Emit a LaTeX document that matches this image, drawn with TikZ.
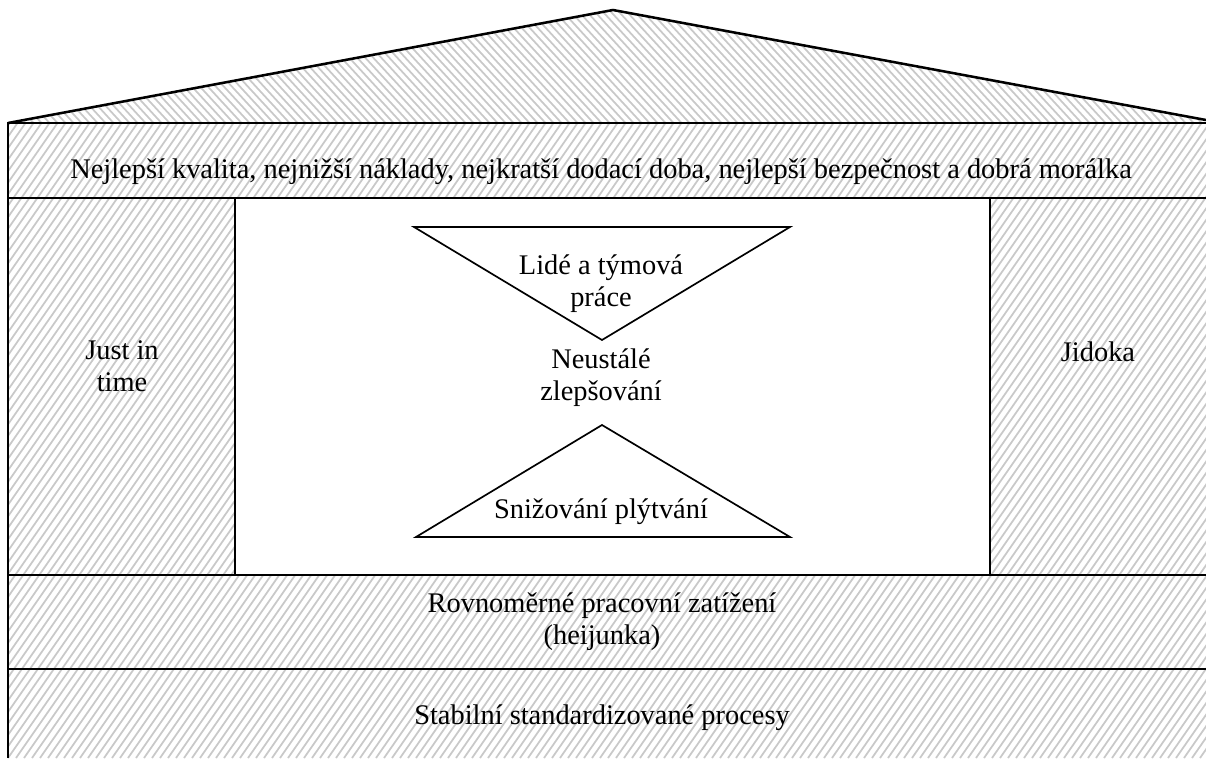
\documentclass[tikz,border=0pt]{standalone}
\usepackage{fontspec}
\setmainfont{Liberation Serif}
\usetikzlibrary{positioning, calc}

\begin{document}
\begin{tikzpicture}[x=0.025cm, y=-0.025cm,
    txt/.style={font=\fontsize{20.2}{22.7}\selectfont, align=center, inner sep=0pt},
    hatchline/.style={black!21, line width=1.25pt},
    wall/.style={black, line width=1.3pt},
    tri/.style={black, line width=1.2pt, fill=white}]

\useasboundingbox (0,0) rectangle (1206,758);

% Roof hatching
\begin{scope}
\clip (8,123) -- (613,10) -- (1206,120) -- (1206,123) -- cycle;
\foreach \x in {-200,-192,...,1400}
    \draw[hatchline] (\x,0) -- ++(120,130);
\end{scope}

% Body hatching
\begin{scope}
\clip (8,123) rectangle (1206,758);
\foreach \x in {-600,-592,...,1210}
    \draw[hatchline] (\x,758) -- ++(445,-640);
\end{scope}
\fill[white] (235,198) rectangle (990,575);

% Outlines
\draw[wall, line width=1.8pt] (8,123) -- (613,10) -- (1206,120);
\draw[wall] (8,758) -- (8,123) -- (1206,123);
\draw[wall] (8,198) -- (1206,198);
\draw[wall] (235,198) -- (235,575);
\draw[wall] (990,198) -- (990,575);
\draw[wall] (8,575) -- (1206,575);
\draw[wall] (8,669) -- (1206,669);

% Triangles
\draw[tri] (414,227) -- (790,227) -- (602,340) -- cycle;
\draw[tri] (602,425) -- (790,537) -- (416,537) -- cycle;

% Texts
\node[txt] (goals) at (601,172) {Nejlepší kvalita, nejnižší náklady, nejkratší dodací doba, nejlepší bezpečnost a dobrá morálka};
\node[txt] (jit) at (122,366) {Just in\\time};
\node[txt] (jidoka) at (1098,352) {Jidoka};
\node[txt] (people) at (601,284) {Lidé a týmová\\práce};
\node[txt] (kaizen) at (601,378) {Neustálé\\zlepšování};
\node[txt] (waste) at (601,512) {Snižování plýtvání};
\node[txt] (heijunka) at (602,622) {Rovnoměrné pracovní zatížení\\(heijunka)};
\node[txt] (std) at (602,718) {Stabilní standardizované procesy};
\end{tikzpicture}
\end{document}
